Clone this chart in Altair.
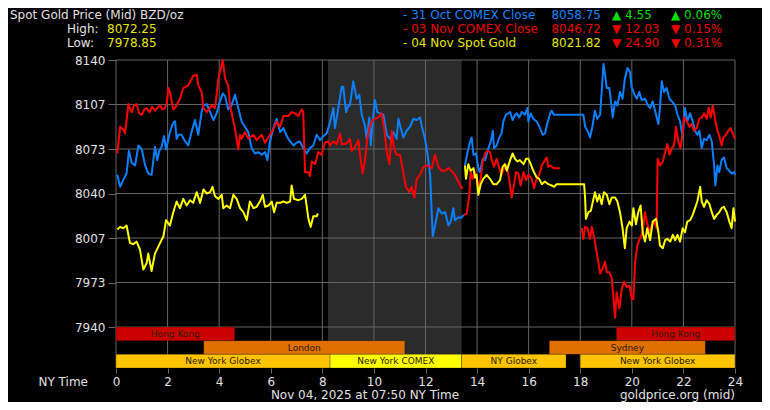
import altair as alt
import pandas as pd

# ---------------- data ----------------
HOUR_TICKS = list(range(0, 25, 2))
PRICE_TICKS = [7940, 7973.33, 8006.67, 8040, 8073.33, 8106.67, 8140]

# 31 Oct COMEX Close (blue)
blue1_h = [0.05, 0.16, 0.28, 0.41, 0.50, 0.61, 0.74, 0.87, 1.00, 1.13, 1.25, 1.38, 1.51, 1.60, 1.68, 1.77, 1.86, 1.94,
           2.09, 2.22, 2.29, 2.35, 2.42, 2.54, 2.68, 2.80, 2.93, 3.06, 3.19, 3.32, 3.39, 3.52, 3.65, 3.78, 3.90, 4.03,
           4.14, 4.23, 4.35, 4.48, 4.61, 4.74, 4.87, 5.00, 5.13, 5.26, 5.39, 5.52, 5.65, 5.78, 5.87, 5.97, 6.10, 6.23,
           6.36, 6.49, 6.62, 6.75, 6.88, 7.00, 7.13, 7.26, 7.39, 7.52, 7.65, 7.78, 7.91, 8.04, 8.17, 8.29, 8.43, 8.49,
           8.62, 8.75, 8.81, 8.92, 9.01, 9.07, 9.20, 9.33, 9.43, 9.53, 9.65, 9.72, 9.82, 9.88, 9.95, 10.04, 10.13,
           10.24, 10.37, 10.50, 10.62, 10.75, 10.88, 10.95, 11.04, 11.14, 11.27, 11.40, 11.53, 11.66, 11.79, 11.85,
           11.98, 12.07, 12.18, 12.24, 12.28, 12.37, 12.50, 12.63, 12.76, 12.89, 12.98, 13.08, 13.14, 13.27, 13.40, 13.47]
blue1_p = [8054, 8045, 8050, 8055, 8072, 8063, 8061, 8076, 8073, 8061, 8055, 8054, 8075, 8065, 8072, 8075, 8083, 8073,
           8086, 8093, 8094, 8081, 8084, 8084, 8079, 8076, 8086, 8095, 8084, 8101, 8106, 8107, 8101, 8095, 8100, 8109,
           8115, 8113, 8103, 8106, 8114, 8104, 8094, 8090, 8086, 8074, 8070, 8071, 8069, 8071, 8065, 8079, 8089, 8096,
           8086, 8089, 8083, 8079, 8076, 8078, 8079, 8074, 8070, 8074, 8076, 8084, 8080, 8083, 8085, 8093, 8104, 8089,
           8104, 8120, 8120, 8101, 8106, 8106, 8124, 8111, 8114, 8099, 8091, 8081, 8097, 8076, 8094, 8110, 8101,
           8100, 8099, 8084, 8081, 8086, 8081, 8096, 8089, 8082, 8087, 8090, 8096, 8095, 8097, 8091,
           8081, 8071, 8054, 8026, 8008, 8016, 8029, 8025, 8026, 8016, 8019, 8029, 8020, 8022, 8022, 8024]
blue2_h = [13.53, 13.63, 13.73, 13.79, 13.86, 13.96, 14.05, 14.11, 14.22, 14.31, 14.44, 14.53, 14.61, 14.66, 14.76,
           14.86, 14.95, 15.02, 15.12, 15.21, 15.28, 15.38, 15.47, 15.54, 15.64, 15.73, 15.86, 15.95, 15.99, 16.08,
           16.18, 16.31, 16.44, 16.54, 16.63, 16.72, 16.83, 16.89, 16.98, 18.12, 18.19, 18.28, 18.38, 18.47, 18.57,
           18.66, 18.77, 18.83, 18.90, 18.96, 19.03, 19.13, 19.18, 19.26, 19.35, 19.44, 19.54, 19.64, 19.73, 19.83,
           19.93, 19.99, 20.08, 20.19, 20.29, 20.38, 20.51, 20.60, 20.71, 20.81, 20.90, 21.03, 21.09, 21.16, 21.25,
           21.35, 21.46, 21.55, 21.68, 21.77, 21.87, 21.97, 22.06, 22.15, 22.26, 22.36, 22.45, 22.54, 22.62, 22.71,
           22.80, 22.90, 23.01, 23.10, 23.19, 23.24, 23.32, 23.39, 23.48, 23.57, 23.68, 23.78, 23.87, 23.96, 24.00]
blue2_p = [8061, 8071, 8079, 8082, 8069, 8070, 8059, 8056, 8066, 8065, 8074, 8079, 8087, 8074, 8076,
           8082, 8085, 8094, 8099, 8100, 8101, 8095, 8099, 8100, 8097, 8101, 8099, 8104, 8094, 8100,
           8096, 8094, 8089, 8084, 8085, 8092, 8100, 8102, 8099, 8099, 8090, 8087, 8082, 8090, 8102,
           8096, 8099, 8116, 8137, 8129, 8119, 8119, 8111, 8097, 8109, 8106, 8116, 8111, 8126, 8134,
           8131, 8120, 8115, 8111, 8116, 8110, 8111, 8107, 8104, 8109, 8102, 8092, 8104, 8124, 8116,
           8119, 8111, 8109, 8106, 8099, 8094, 8082, 8104, 8094, 8100, 8094, 8087, 8084, 8087, 8074,
           8081, 8080, 8084, 8079, 8061, 8046, 8061, 8056, 8065, 8067, 8059, 8057, 8055, 8056, 8054]

# 03 Nov COMEX Close (red)
red1_h = [0.05, 0.16, 0.28, 0.35, 0.48, 0.55, 0.61, 0.70, 0.80, 0.90, 1.00, 1.10, 1.19, 1.30, 1.40, 1.51, 1.60, 1.71,
          1.80, 1.90, 1.97, 2.03, 2.09, 2.22, 2.29, 2.48, 2.61, 2.80, 2.99, 3.13, 3.19, 3.32, 3.39, 3.52, 3.71, 3.84,
          3.97, 4.14, 4.23, 4.35, 4.42, 4.55, 4.61, 4.74, 4.81, 4.87, 5.00, 5.13, 5.33, 5.45, 5.65, 5.78, 5.97, 6.10,
          6.23, 6.36, 6.49, 6.68, 6.81, 6.94, 7.07, 7.20, 7.26, 7.33, 7.46, 7.52, 7.59, 7.72, 7.84, 7.97, 8.10, 8.23,
          8.30, 8.43, 8.56, 8.69, 8.75, 8.88, 9.01, 9.07, 9.14, 9.27, 9.40, 9.46, 9.56, 9.65, 9.74, 9.85, 9.95, 10.04,
          10.17, 10.30, 10.39, 10.50, 10.60, 10.69, 10.78, 10.88, 11.01, 11.11, 11.24, 11.37, 11.46, 11.57, 11.66,
          11.79, 11.92, 12.05, 12.18, 12.24, 12.37, 12.50, 12.63, 12.76, 12.89, 13.01, 13.14, 13.27, 13.40, 13.45]
red1_p = [8070, 8090, 8088, 8085, 8107, 8103, 8101, 8106, 8107, 8100, 8099, 8103, 8104, 8101, 8105, 8102, 8104, 8106,
          8103, 8104, 8108, 8119, 8116, 8103, 8104, 8111, 8119, 8121, 8128, 8129, 8121, 8116, 8104, 8101, 8106, 8104,
          8126, 8140, 8126, 8121, 8106, 8094, 8089, 8073, 8084, 8081, 8086, 8081, 8084, 8080, 8084, 8078, 8084, 8088,
          8094, 8090, 8098, 8098, 8101, 8100, 8098, 8103, 8101, 8056, 8056, 8053, 8064, 8062, 8071, 8069, 8078, 8079,
          8076, 8079, 8077, 8085, 8077, 8077, 8079, 8081, 8072, 8075, 8080, 8069, 8055, 8064, 8081, 8091, 8095, 8096,
          8097, 8100, 8090, 8071, 8062, 8087, 8074, 8069, 8069, 8059, 8045, 8041, 8045, 8037, 8051,
          8054, 8060, 8061, 8060, 8059, 8069, 8060, 8057, 8057, 8059, 8057, 8054, 8049, 8044, 8045]
red2_h = [13.49, 13.60, 13.70, 13.75, 13.83, 13.92, 14.05, 14.14, 14.22, 14.31, 14.40, 14.50, 14.57, 14.66, 14.76,
          14.86, 14.95, 15.04, 15.15, 15.25, 15.34, 15.41, 15.51, 15.60, 15.69, 15.80, 15.90, 15.99, 16.12, 16.21,
          16.29, 16.41, 16.51, 16.63, 16.70, 16.76, 16.85, 16.96, 17.09, 17.21]
red2_p = [8024, 8025, 8039, 8056, 8051, 8056, 8045, 8051, 8064, 8070, 8072, 8071, 8065, 8060, 8066,
          8059, 8054, 8059, 8061, 8050, 8037, 8044, 8056, 8055, 8046, 8056, 8050, 8054, 8051, 8044,
          8050, 8054, 8061, 8065, 8067, 8060, 8061, 8059, 8059, 8059]
red3_h = [18.06, 18.12, 18.19, 18.28, 18.38, 18.45, 18.54, 18.61, 18.70, 18.77, 18.87, 18.96, 19.03, 19.13, 19.22,
          19.29, 19.35, 19.41, 19.52, 19.61, 19.70, 19.80, 19.91, 20.00, 20.06, 20.13, 20.21, 20.32, 20.42, 20.51,
          20.58, 20.68, 20.77, 20.86, 20.96, 21.00, 21.09, 21.20, 21.29, 21.38, 21.46, 21.55, 21.64, 21.71, 21.80,
          21.89, 21.97, 22.02, 22.13, 22.23, 22.32, 22.41, 22.51, 22.62, 22.71, 22.80, 22.90, 22.98, 23.06, 23.14,
          23.23, 23.32, 23.42, 23.48, 23.55, 23.65, 23.74, 23.83, 23.91, 24.00]
red3_p = [8014, 8006, 8015, 8014, 8006, 8015, 8007, 7999, 7989, 7980, 7984, 7989, 7981, 7981, 7977,
          7961, 7947, 7966, 7954, 7969, 7974, 7970, 7971, 7961, 7961, 7989, 8001, 8007, 8011, 8026,
          8019, 8011, 8016, 8019, 8014, 8066, 8061, 8064, 8071, 8077, 8069, 8074, 8076, 8090, 8079,
          8074, 8085, 8097, 8094, 8090, 8092, 8087, 8089, 8096, 8097, 8100, 8096, 8104, 8097, 8106,
          8095, 8087, 8081, 8076, 8082, 8084, 8087, 8089, 8085, 8081]

# 04 Nov Spot Gold (yellow)
yel1_h = [0.05, 0.16, 0.28, 0.41, 0.54, 0.67, 0.80, 0.93, 1.06, 1.19, 1.25, 1.38, 1.51, 1.71, 1.84, 1.94, 2.09, 2.22,
          2.35, 2.48, 2.61, 2.74, 2.87, 2.99, 3.13, 3.26, 3.39, 3.52, 3.65, 3.74, 3.84, 3.97, 4.10, 4.16, 4.29, 4.42,
          4.55, 4.68, 4.81, 4.94, 5.07, 5.19, 5.33, 5.45, 5.58, 5.69, 5.78, 5.91, 6.04, 6.13, 6.23, 6.36, 6.49, 6.62,
          6.75, 6.81, 6.90, 7.07, 7.20, 7.33, 7.39, 7.46, 7.55, 7.65, 7.78, 7.83]
yel1_p = [8013, 8015, 8014, 8016, 8003, 8002, 8004, 7998, 7983, 7988, 7995, 7982, 7995, 8003, 8008, 8020, 8016, 8026,
          8034, 8029, 8036, 8031, 8035, 8033, 8041, 8033, 8043, 8040, 8041, 8045, 8038, 8036, 8039, 8029, 8031, 8029,
          8039, 8036, 8029, 8026, 8020, 8034, 8029, 8030, 8034, 8039, 8030, 8031, 8034, 8026, 8033, 8033, 8034, 8033,
          8034, 8046, 8036, 8035, 8036, 8039, 8031, 8021, 8015, 8023, 8023, 8025]
yel2_h = [13.53, 13.57, 13.66, 13.75, 13.86, 13.92, 13.98, 14.05, 14.14, 14.24, 14.37, 14.50, 14.63, 14.76, 14.89,
          14.99, 15.08, 15.15, 15.28, 15.38, 15.47, 15.56, 15.66, 15.80, 15.90, 15.99, 16.08, 16.18, 16.31, 16.41,
          16.51, 16.63, 16.76, 16.89, 16.99, 17.08, 18.15, 18.19, 18.22, 18.32, 18.41, 18.49, 18.57, 18.66, 18.74,
          18.83, 18.92, 19.03, 19.13, 19.22, 19.35, 19.44, 19.54, 19.64, 19.73, 19.80, 19.91, 20.00, 20.06, 20.16,
          20.25, 20.34, 20.42, 20.51, 20.60, 20.71, 20.81, 20.94, 21.03, 21.09, 21.20, 21.29, 21.38, 21.49, 21.59,
          21.68, 21.77, 21.87, 21.97, 22.06, 22.15, 22.26, 22.36, 22.45, 22.54, 22.65, 22.71, 22.80, 22.90, 23.01,
          23.10, 23.19, 23.29, 23.39, 23.48, 23.57, 23.68, 23.78, 23.87, 23.94, 24.00]
yel2_p = [8061, 8051, 8062, 8057, 8059, 8052, 8054, 8039, 8047, 8051, 8054, 8051, 8047, 8047, 8050,
          8060, 8062, 8057, 8065, 8070, 8066, 8064, 8065, 8062, 8066, 8066, 8062, 8057, 8052, 8051,
          8047, 8049, 8047, 8046, 8045, 8047, 8047, 8036, 8021, 8026, 8027, 8034, 8041, 8034, 8039,
          8032, 8041, 8039, 8032, 8037, 8037, 8034, 8026, 8014, 7999, 8014, 8019, 8016, 8029, 8017,
          8026, 8031, 8011, 8004, 8014, 8005, 8019, 8021, 8011, 8001, 7999, 8005, 8006, 8004, 8009,
          8005, 8009, 8004, 8014, 8011, 8019, 8020, 8024, 8029, 8034, 8045, 8034, 8030, 8035, 8032,
          8026, 8021, 8024, 8026, 8029, 8030, 8026, 8019, 8014, 8029, 8019]

# market sessions (NY time hours)
SESSION_NAMES = ["Hong Kong", "Hong Kong", "London", "Sydney", "New York Globex", "New York COMEX", "NY Globex",
                 "New York Globex"]
SESSION_ROWS = ["r1", "r1", "r2", "r2", "r3", "r3", "r3", "r3"]
SESSION_START = [0.0, 19.4, 3.4, 16.8, 0.0, 8.3, 13.4, 18.0]
SESSION_END = [4.6, 24.0, 11.2, 22.85, 8.3, 13.4, 17.45, 24.0]
COMEX_SHADE = [8.22, 13.4]

# ---------------- styling ----------------
W, H = 619, 308
Y_DOM = [7909.3, 8140]
FONT = "DejaVu Sans"
TXT = "#e0e0e0"
GRID = "#666666"
BLUE, RED, YEL, GREEN = "#0a80ff", "#ff0000", "#ffff00", "#00dd00"
BLUE_T, RED_T, YEL_T = "#1a84ff", "#ee0000", "#e6e600"

xs = alt.Scale(domain=[0, 24], nice=False, zero=False)
ys = alt.Scale(domain=Y_DOM, nice=False, zero=False)
AX = alt.Axis(values=HOUR_TICKS, grid=False, domain=False, tickColor=GRID, tickSize=5, labelColor=TXT,
              labelFontSize=12, labelFont=FONT, labelPadding=3, title=None, format="d",
              labelFlush=False, labelOverlap=False)
AY = alt.Axis(values=PRICE_TICKS, grid=False, domain=False, tickColor=GRID, tickSize=8, labelColor=TXT,
              labelFontSize=12, labelFont=FONT, labelPadding=3, title=None,
              labelExpr="format(datum.value, '.0f')", labelOverlap=False, labelFlush=False)

one = alt.Data(values=[{}])

gray = alt.Chart(pd.DataFrame({"s": [COMEX_SHADE[0]], "e": [COMEX_SHADE[1]]})).mark_rect(color="#2b2b2b").encode(
    x=alt.X("s:Q", scale=xs, axis=AX), x2="e:Q", y=alt.value(0), y2=alt.value(295))

vgrid = alt.Chart(pd.DataFrame({"h": HOUR_TICKS})).mark_rule(color=GRID, strokeWidth=1).encode(
    x=alt.X("h:Q", scale=xs, axis=AX), y=alt.value(0), y2=alt.value(H))
hgrid = alt.Chart(pd.DataFrame({"p": PRICE_TICKS})).mark_rule(color=GRID, strokeWidth=1).encode(
    y=alt.Y("p:Q", scale=ys, axis=AY), x=alt.value(0), x2=alt.value(W))


def series_layer(segs, color):
    rows = []
    for i, (hh, pp) in enumerate(segs):
        for h, p in zip(hh, pp):
            rows.append({"hour": h, "price": p, "seg": i})
    return alt.Chart(pd.DataFrame(rows)).mark_line(color=color, strokeWidth=2, strokeJoin="round").encode(
        x=alt.X("hour:Q", scale=xs, axis=AX),
        y=alt.Y("price:Q", scale=ys, axis=AY),
        detail="seg:N", order="hour:Q")


blue = series_layer([(blue1_h, blue1_p), (blue2_h, blue2_p)], BLUE)
red = series_layer([(red1_h, red1_p), (red2_h, red2_p), (red3_h, red3_p)], RED)
yel = series_layer([(yel1_h, yel1_p), (yel2_h, yel2_p)], YEL)

price_layers = alt.layer(gray, hgrid, vgrid, blue, red, yel)

sess = pd.DataFrame({"name": SESSION_NAMES, "row": SESSION_ROWS, "s": SESSION_START, "e": SESSION_END})
sess["mid"] = (sess["s"] + sess["e"]) / 2
row_scale = alt.Scale(domain=["r1", "r2", "r3"], range=[267, H], paddingInner=0, paddingOuter=0)
sess_color = alt.Scale(domain=["Hong Kong", "London", "Sydney", "New York Globex", "New York COMEX", "NY Globex"],
                       range=["#cc0000", "#e07000", "#e07000", "#ffc400", "#ffff00", "#ffc400"])
sess_rect = alt.Chart(sess).mark_rect(stroke="#000000", strokeOpacity=0.25, strokeWidth=1).encode(
    x=alt.X("s:Q", scale=xs, axis=AX), x2="e:Q",
    y=alt.Y("row:N", scale=row_scale, axis=None),
    color=alt.Color("name:N", scale=sess_color, legend=None))
sess_text = alt.Chart(sess).mark_text(font=FONT, fontSize=9, color="#2a1a00", baseline="middle").encode(
    x=alt.X("mid:Q", scale=xs, axis=AX),
    y=alt.Y("row:N", scale=row_scale, axis=None),
    text="name:N")
bars = alt.layer(sess_rect, sess_text)


def txt(s, x, y, color=TXT, align="left", size=12):
    return alt.Chart(one).mark_text(text=s, align=align, baseline="middle", font=FONT, fontSize=size,
                                    color=color).encode(x=alt.value(x), y=alt.value(y))


R1, R2, R3 = -45, -31, -17
texts = [
    txt("Spot Gold Price (Mid) BZD/oz", -106, R1),
    txt("High:", -49, R2),
    txt("8072.25", -9, R2, YEL_T),
    txt("Low:", -49, R3),
    txt("7978.85", -9, R3, YEL_T),
    txt("- 31 Oct COMEX Close", 287, R1, BLUE_T),
    txt("8058.75", 485, R1, BLUE_T, "right"),
    txt("\u25b2 4.55", 496, R1, GREEN),
    txt("\u25b2 0.06%", 555, R1, GREEN),
    txt("- 03 Nov COMEX Close", 287, R2, RED_T),
    txt("8046.72", 485, R2, RED_T, "right"),
    txt("\u25bc 12.03", 496, R2, RED_T),
    txt("\u25bc 0.15%", 555, R2, RED_T),
    txt("- 04 Nov Spot Gold", 287, R3, YEL_T),
    txt("8021.82", 485, R3, YEL_T, "right"),
    txt("\u25bc 24.90", 496, R3, RED_T),
    txt("\u25bc 0.31%", 555, R3, RED_T),
    txt("NY Time", -28, 322, TXT, "right"),
    txt("Nov 04, 2025 at 07:50 NY Time", 249, 335, TXT, "center"),
    txt("goldprice.org (mid)", 619, 335, TXT, "right"),
]

chart = alt.layer(price_layers, bars, *texts).resolve_scale(y="independent").properties(
    width=W, height=H,
    padding={"left": 108, "top": 52, "right": 27, "bottom": 34},
    autosize=alt.AutoSizeParams(type="none"),
    background="black",
).configure_view(strokeWidth=0)

chart.save("out.html", embed_options={"renderer": "svg", "actions": False})
